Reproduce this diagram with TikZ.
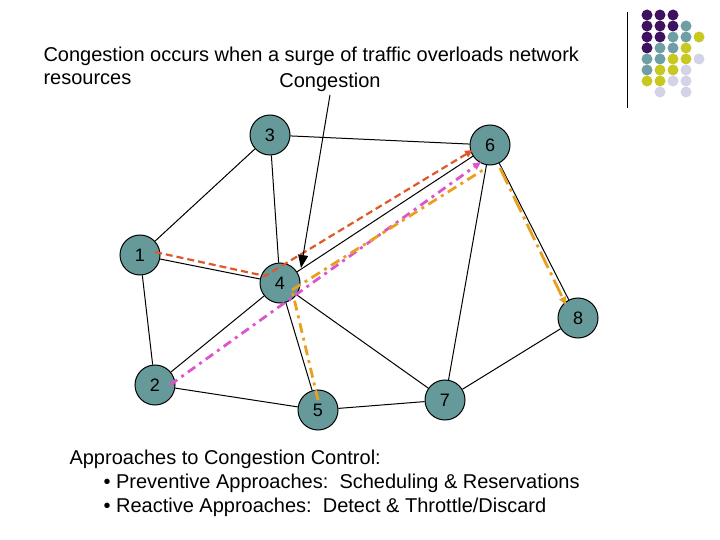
\documentclass[tikz,border=0pt]{standalone}
\usepackage{fontspec}
\setmainfont{Liberation Sans}
\usetikzlibrary{arrows.meta}
\begin{document}
\begin{tikzpicture}[x=1pt,y=-1pt,
  nd/.style={circle,draw=black,line width=1pt,fill=nodecol,minimum size=40pt,inner sep=0pt,font=\fontsize{18}{18}\selectfont},
  ed/.style={draw=black,line width=1pt},
  dt/.style={circle,minimum size=11pt,inner sep=0pt},
  tip/.style={-{Triangle[length=8pt,width=7pt]}}]
\definecolor{nodecol}{HTML}{669999}
\definecolor{dP}{HTML}{3F1260}
\definecolor{dT}{HTML}{6F9FA4}
\definecolor{dY}{HTML}{C8C823}
\definecolor{dL}{HTML}{D2D3E6}
\definecolor{rdash}{HTML}{E0582A}
\definecolor{mag}{HTML}{DD55CC}
\definecolor{org}{HTML}{E8A020}
\useasboundingbox (0,0) rectangle (720,540);
\draw[line width=0.8pt] (627,12) -- (627,108);
\def\D#1#2#3{\node[dt,fill=d#3] at ({647+13*#1},{15+11*#2}) {};}
\D00P\D10P\D20P
\D01P\D11P\D21P\D31T
\D02P\D12P\D22T\D32T\D42Y
\D03P\D13T\D23T\D33Y
\D04T\D14T\D24Y\D34Y\D44L
\D05T\D15Y\D25Y\D35L
\D06Y\D16Y\D26L\D36L
\D17L\D37L
\node[anchor=west,font=\fontsize{20}{23}\selectfont,align=left] (t) at (40,66) {Congestion occurs when a surge of traffic overloads network\\resources};
\node[font=\fontsize{20}{23}\selectfont] (cl) at (330,82) {Congestion};
\node[nd] (n3) at (270,135) {3};
\node[nd] (n6) at (490,145) {6};
\node[nd] (n1) at (140,255) {1};
\node[nd] (n4) at (280,283) {4};
\node[nd] (n8) at (578,318) {8};
\node[nd] (n2) at (155,385) {2};
\node[nd] (n5) at (318,410) {5};
\node[nd] (n7) at (445,400) {7};
\foreach \a/\b in {n3/n1,n3/n4,n3/n6,n1/n4,n1/n2,n2/n4,n2/n5,n4/n5,n4/n7,n5/n7,n7/n6,n7/n8,n4/n6,n6/n8}
  \draw[ed] (\a) -- (\b);
\coordinate (r0) at (155,252); \coordinate (r1) at (265,276); \coordinate (r2) at (473,150);
\coordinate (m0) at (170,385); \coordinate (m1) at (481,162);
\coordinate (o0) at (318,400); \coordinate (o1) at (292,290); \coordinate (o2) at (483,170);
\coordinate (o3) at (500,168); \coordinate (o4) at (566,305);
\draw[rdash,line width=2.2pt,dash pattern=on 7pt off 4pt,tip] (r0) -- (r1) -- (r2);
\draw[mag,line width=2.8pt,dash pattern=on 9pt off 5pt on 3pt off 5pt,tip] (m0) -- (m1);
\draw[org,line width=2.8pt,dash pattern=on 10pt off 5pt on 3pt off 5pt] (o0) -- (o1);
\draw[org,line width=2.8pt,dash pattern=on 10pt off 5pt on 3pt off 5pt] (o1) -- (o2);
\draw[org,line width=2.8pt,dash pattern=on 18pt off 5pt on 3pt off 5pt,tip] (o3) -- (o4);
\coordinate (ct) at (301,268);
\draw[line width=1pt,-{Triangle[length=13pt,width=10pt]}] (cl.south) -- (ct);
\node[anchor=north west,align=left,font=\fontsize{20}{24}\selectfont] (ap) at (66,446) {Approaches to Congestion Control:\\
\hspace*{34pt}\textbullet\ Preventive Approaches:\ \ Scheduling \& Reservations\\
\hspace*{34pt}\textbullet\ Reactive Approaches:\ \ Detect \& Throttle/Discard};
\end{tikzpicture}
\end{document}
